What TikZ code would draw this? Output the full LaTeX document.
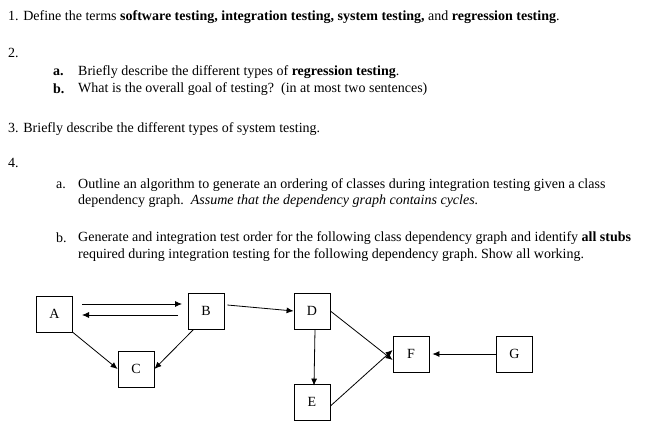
\documentclass[tikz,border=0pt]{standalone}
\usepackage{fontspec}
\setmainfont{Liberation Serif}
\usetikzlibrary{arrows.meta}
\begin{document}
\begin{tikzpicture}[x=1pt,y=-1pt,
  txt/.style={anchor=west,inner sep=0pt,font=\fontsize{14}{16}\selectfont},
  box/.style={draw,thick,minimum width=36pt,minimum height=36pt,inner sep=0pt,font=\fontsize{14}{16}\selectfont},
  arr/.style={-{Latex[length=7pt,width=6pt]},thick}]
\useasboundingbox (0,0) rectangle (666,429);
\node[txt] (t1) at (8,17) {1. Define the terms \textbf{software testing, integration testing, system testing,} and \textbf{regression testing}.};
\node[txt] (t2) at (8,53) {2.};
\node[txt] (t2a) at (53,72) {\textbf{a.}};
\node[txt] (t2at) at (78,72) {Briefly describe the different types of \textbf{regression testing}.};
\node[txt] (t2b) at (53,89) {\textbf{b.}};
\node[txt] (t2bt) at (78,89) {What is the overall goal of testing?\ \ (in at most two sentences)};
\node[txt] (t3) at (8,129) {3. Briefly describe the different types of system testing.};
\node[txt] (t4) at (8,163) {4.};
\node[txt] (t4a) at (56,185) {a.};
\node[txt] (t4a1) at (78,185) {Outline an algorithm to generate an ordering of classes during integration testing given a class};
\node[txt] (t4a2) at (78,201) {dependency graph.\ \ \textit{Assume that the dependency graph contains cycles.}};
\node[txt] (t4b) at (56,238) {b.};
\node[txt] (t4b1) at (78,238) {Generate and integration test order for the following class dependency graph and identify \textbf{all stubs}};
\node[txt] (t4b2) at (78,255) {required during integration testing for the following dependency graph.\ Show all working.};
\node[box] (A) at (54.5,314) {A};
\node[box] (B) at (206,311) {B};
\node[box] (C) at (136,369) {C};
\node[box] (D) at (312,311) {D};
\node[box] (E) at (312,402) {E};
\node[box] (F) at (411,354) {F};
\node[box] (G) at (514.5,354) {G};
\coordinate (ab1) at (82,304); \coordinate (ab2) at (182,304);
\coordinate (ba1) at (178,315); \coordinate (ba2) at (82,315);
\draw[arr] (ab1) -- (ab2);
\draw[arr] (ba1) -- (ba2);
\draw[arr] (B.east) ++(3,-6) -- (D.west);
\draw[arr] (A.south east) -- (C.west);
\draw[arr] (B.south west) ++(6,0) -- (C.east);
\draw[arr] (D.south) ++(3,0) -- ([xshift=2pt,yshift=-2pt]E.north);
\draw[arr] (D.east) -- ([yshift=-6pt]F.west);
\draw[arr] ([yshift=-4pt]E.east) -- ([yshift=4pt]F.west);
\draw[arr] (G.west) -- ([xshift=3pt]F.east);
\end{tikzpicture}
\end{document}
